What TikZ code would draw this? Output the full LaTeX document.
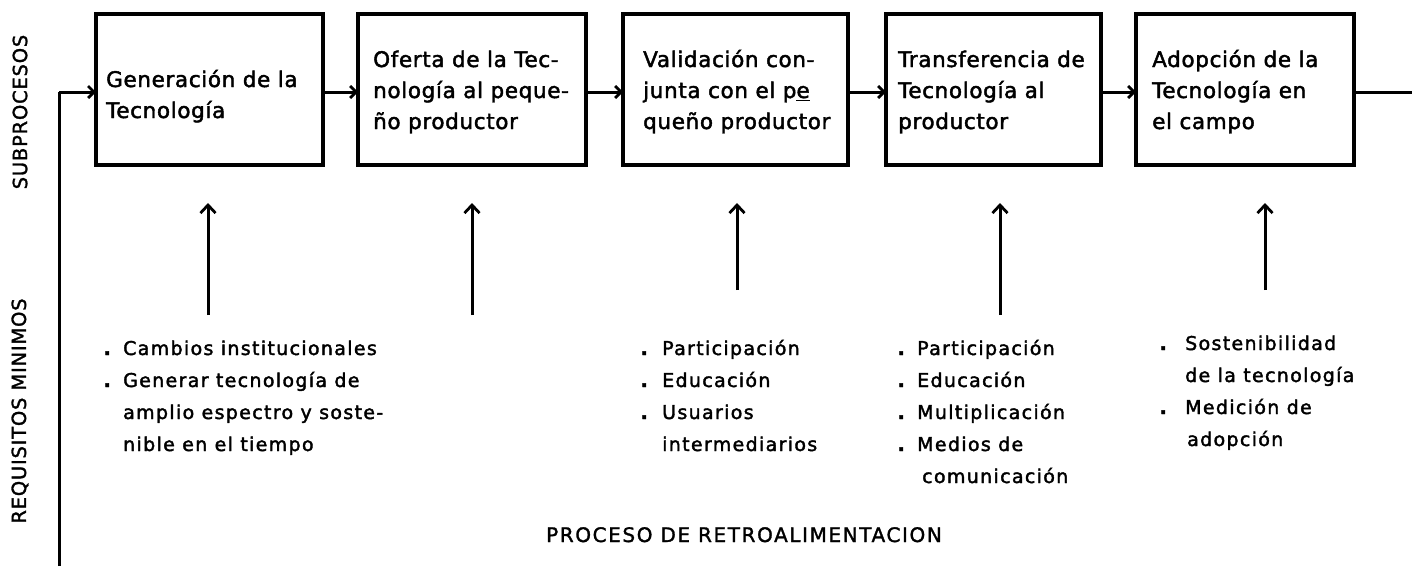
\documentclass[tikz,border=0pt]{standalone}
\usepackage{fontspec}
\setmainfont{DejaVu Sans}
\newfontfamily\boxfont[LetterSpace=3,FakeBold=2]{DejaVu Sans}
\newfontfamily\listfont[LetterSpace=7,FakeBold=2]{DejaVu Sans}
\newfontfamily\capfont[LetterSpace=4,FakeBold=1.5]{DejaVu Sans}
\newfontfamily\botfont[LetterSpace=8,FakeBold=1.5]{DejaVu Sans}
\usetikzlibrary{arrows.meta}
\newcommand{\bul}[1][11pt]{\leavevmode\llap{\textbf{.}\hspace{#1}}}
\begin{document}
\begin{tikzpicture}[x=1pt,y=-1pt,
  boxn/.style={draw, line width=3.2pt, anchor=north west, inner sep=0pt, outer sep=0pt, minimum height=151pt},
  btext/.style={anchor=base west, inner sep=0pt, font=\boxfont\fontsize{21.5}{31}\selectfont},
  ltext/.style={anchor=base west, inner sep=0pt, font=\listfont\fontsize{19}{32}\selectfont},
  side/.style={rotate=90, inner sep=0pt, font=\capfont\fontsize{19.5}{20}\selectfont},
  conn/.style={line width=3pt, -{Straight Barb[length=6pt,width=12pt,line width=2.8pt]}},
  uparr/.style={line width=3pt, -{Straight Barb[length=8pt,width=15pt,line width=2.8pt]}},
  plain/.style={line width=3pt}]
\useasboundingbox (0,0) rectangle (1412,574);

% boxes
\node[boxn, minimum width=227pt] (b1) at (96,14) {};
\node[boxn, minimum width=228pt] (b2) at (358,14) {};
\node[boxn, minimum width=225pt] (b3) at (623,14) {};
\node[boxn, minimum width=215pt] (b4) at (886,14) {};
\node[boxn, minimum width=218pt] (b5) at (1136,14) {};

% box texts
\node[btext] (t1) at (106,87) {\parbox[t]{215pt}{Generación de la\\Tecnología}};
\node[btext] (t2) at (373,67) {\parbox[t]{215pt}{Oferta de la Tec-\\nología al peque-\\ño productor}};
\node[btext] (t3) at (643,67) {\parbox[t]{215pt}{Validación con-\\junta con el p\underline{e}\\queño productor}};
\node[btext] (t4) at (898,67) {\parbox[t]{215pt}{Transferencia de\\Tecnología al\\productor}};
\node[btext] (t5) at (1152,67) {\parbox[t]{215pt}{Adopción de la\\Tecnología en\\el campo}};

% row level for connectors
\coordinate (row) at (0,92);
\coordinate (fbtop) at (59,92);
\coordinate (fbbot) at (59,566);
\coordinate (rend) at (1412,92);

\draw[conn] (b1.east |- row) -- (b2.west |- row);
\draw[conn] (b2.east |- row) -- (b3.west |- row);
\draw[conn] (b3.east |- row) -- (b4.west |- row);
\draw[conn] (b4.east |- row) -- (b5.west |- row);
\draw[plain] (b5.east |- row) -- (rend);
\draw[plain] (fbbot) -- (fbtop);
\draw[conn] (fbtop) -- (b1.west |- row);

% upward arrows
\coordinate (u1b) at (208,315); \coordinate (u1t) at (208,203);
\coordinate (u2b) at (472,315); \coordinate (u2t) at (472,203);
\coordinate (u3b) at (737,290); \coordinate (u3t) at (737,203);
\coordinate (u4b) at (1000,315); \coordinate (u4t) at (1000,203);
\coordinate (u5b) at (1265,290); \coordinate (u5t) at (1265,203);
\draw[uparr] (u1b) -- (u1t);
\draw[uparr] (u2b) -- (u2t);
\draw[uparr] (u3b) -- (u3t);
\draw[uparr] (u4b) -- (u4t);
\draw[uparr] (u5b) -- (u5t);

% requirement lists
\node[ltext] (l1) at (123,355) {\parbox[t]{300pt}{\bul Cambios institucionales\\\bul Generar tecnología de\\amplio espectro y soste-\\nible en el tiempo}};
\node[ltext] (l3) at (662,355) {\parbox[t]{200pt}{\bul[13pt]Participación\\\bul[13pt]Educación\\\bul[13pt]Usuarios\\intermediarios}};
\node[ltext] (l4) at (917,355) {\parbox[t]{200pt}{\bul Participación\\\bul Educación\\\bul Multiplicación\\\bul Medios de\\\hspace*{5pt}comunicación}};
\node[ltext] (l5) at (1185,350) {\parbox[t]{200pt}{\bul[17pt]Sostenibilidad\\de la tecnología\\\bul[17pt]Medición de\\\hspace*{2pt}adopción}};

% side labels
\node[side] (sub) at (20,112) {SUBPROCESOS};
\node[side] (req) at (20,411) {REQUISITOS MINIMOS};

% bottom label
\node[anchor=base, inner sep=0pt, font=\botfont\fontsize{20}{22}\selectfont] (fb) at (744,542) {PROCESO DE RETROALIMENTACION};
\end{tikzpicture}
\end{document}
